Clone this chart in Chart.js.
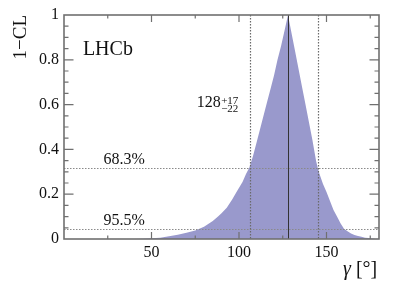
<!DOCTYPE html>
<html>
<head>
<meta charset="utf-8">
<script src="https://cdn.jsdelivr.net/npm/chart.js@4"></script>
<style>
  html, body { margin: 0; padding: 0; background: #fff; }
  #wrap { width: 399px; height: 288px; }
</style>
</head>
<body>
<div id="wrap"><canvas id="chart" width="399" height="288"></canvas></div>
<script>
// gamma scan, 1-CL vs gamma [deg]
const gammaVals = [40, 45, 50, 55, 60, 65, 70, 75, 80, 85, 88, 90, 93, 96, 99, 102, 104, 106, 108, 110,
  112, 114, 116, 118, 120, 122, 124, 126, 128, 130, 132, 134, 136, 138, 140, 142, 144, 145, 146,
  148, 150, 152, 154, 156, 158, 160, 162, 164, 166, 168, 170, 172, 174, 176, 178];
const clVals = [0, 0.001, 0.003, 0.006, 0.012, 0.019, 0.028, 0.038, 0.055, 0.08, 0.1, 0.115, 0.14, 0.175, 0.215, 0.255, 0.29, 0.32, 0.37, 0.43,
  0.49, 0.55, 0.61, 0.67, 0.73, 0.8, 0.86, 0.93, 1.0, 0.92, 0.84, 0.76, 0.68, 0.6, 0.52, 0.44, 0.35, 0.317, 0.29,
  0.245, 0.21, 0.17, 0.13, 0.1, 0.07, 0.046, 0.035, 0.025, 0.018, 0.013, 0.01, 0.006, 0.004, 0.002, 0];

const xTickLabels = [50, 100, 150];
const yTickLabels = [0, 0.2, 0.4, 0.6, 0.8, 1];

const bestFit = 128;
const interval = [106, 145];
const clLevels = [0.317, 0.045];
const clNames = ['68.3%', '95.5%'];

const SERIF = '"Liberation Serif", "DejaVu Serif", serif';
const frameColor = '#707070';

const overlay = {
  id: 'overlay',
  afterDatasetsDraw(chart) {
    const ctx = chart.ctx;
    const xs = chart.scales.x, ys = chart.scales.y;
    const a = chart.chartArea;
    ctx.save();

    // CL levels (horizontal dotted)
    ctx.setLineDash([1.5, 1.5]);
    ctx.strokeStyle = '#8a8a8a';
    ctx.lineWidth = 1.2;
    clLevels.forEach(v => {
      const y = Math.round(ys.getPixelForValue(v)) + 0.5;
      ctx.beginPath(); ctx.moveTo(a.left, y); ctx.lineTo(a.right, y); ctx.stroke();
    });
    // interval bounds (vertical dotted)
    ctx.strokeStyle = '#6a6a6a';
    interval.forEach(v => {
      const x = Math.round(xs.getPixelForValue(v)) + 0.5;
      ctx.beginPath(); ctx.moveTo(x, a.top); ctx.lineTo(x, a.bottom); ctx.stroke();
    });
    // best fit
    ctx.setLineDash([]);
    ctx.strokeStyle = '#333';
    ctx.lineWidth = 1;
    const xb = Math.round(xs.getPixelForValue(bestFit)) + 0.5;
    ctx.beginPath(); ctx.moveTo(xb, a.top); ctx.lineTo(xb, a.bottom); ctx.stroke();

    // frame
    ctx.strokeStyle = frameColor;
    ctx.lineWidth = 1.6;
    ctx.strokeRect(a.left, a.top, a.right - a.left, a.bottom - a.top);

    // ticks (inside, ROOT style)
    ctx.lineWidth = 1.2;
    ctx.beginPath();
    for (let v = 0; v <= 180; v += 25) {
      const x = xs.getPixelForValue(v);
      if (x <= a.left + 1 || x >= a.right - 1) continue;
      const len = (v % 50 === 0) ? 7 : 3.5;
      ctx.moveTo(x, a.bottom); ctx.lineTo(x, a.bottom - len);
      ctx.moveTo(x, a.top); ctx.lineTo(x, a.top + len);
    }
    for (let i = 1; i < 20; i++) {
      const v = i * 0.05;
      const y = ys.getPixelForValue(v);
      const len = (i % 4 === 0) ? 9.5 : 4.5;
      ctx.moveTo(a.left, y); ctx.lineTo(a.left + len, y);
      ctx.moveTo(a.right, y); ctx.lineTo(a.right - len, y);
    }
    ctx.stroke();

    // texts
    ctx.fillStyle = '#111';
    ctx.textBaseline = 'alphabetic';
    ctx.textAlign = 'left';
    ctx.font = '20px ' + SERIF;
    ctx.fillText('LHCb', xs.getPixelForValue(10.8), ys.getPixelForValue(0.82));

    ctx.font = '16px ' + SERIF;
    clLevels.forEach((v, i) => {
      ctx.fillText(clNames[i], xs.getPixelForValue(22.6), ys.getPixelForValue(v) - 4);
    });

    // result label 128 +17 -22
    const lx = xs.getPixelForValue(75.8), ly = ys.getPixelForValue(0.59);
    ctx.font = '16px ' + SERIF;
    ctx.fillText(String(bestFit), lx, ly);
    const w = ctx.measureText(String(bestFit)).width;
    ctx.font = '11px ' + SERIF;
    ctx.fillText('+' + (interval[1] - bestFit), lx + w + 0.5, ly - 2.5);
    ctx.fillText('\u2212' + (bestFit - interval[0]), lx + w + 0.5, ly + 5.5);

    // x-axis title: gamma [deg]
    ctx.font = 'italic 20px ' + SERIF;
    const gx = 343, gy = 275;
    ctx.fillText('\u03b3', gx, gy);
    const gw = ctx.measureText('\u03b3').width;
    ctx.font = '20px ' + SERIF;
    ctx.fillText(' [\u00b0]', gx + gw, gy);

    ctx.restore();
  }
};

new Chart(document.getElementById('chart'), {
  type: 'line',
  data: {
    datasets: [{
      data: gammaVals.map((g, i) => ({ x: g, y: clVals[i] })),
      backgroundColor: '#9999cc',
      borderWidth: 0,
      pointRadius: 0,
      tension: 0,
      fill: 'origin'
    }]
  },
  options: {
    responsive: false,
    animation: false,
    layout: { padding: { top: 15, right: 20, left: 0, bottom: 0 } },
    plugins: { legend: { display: false }, tooltip: { enabled: false } },
    scales: {
      x: {
        type: 'linear', min: 0, max: 180,
        afterFit(s) { s.height = 49; },
        afterBuildTicks(s) { s.ticks = xTickLabels.map(v => ({ value: v })); },
        grid: { display: false, drawTicks: false },
        border: { display: false },
        ticks: { color: '#111', font: { family: SERIF, size: 16 }, padding: 4, maxRotation: 0 }
      },
      y: {
        min: 0, max: 1,
        afterFit(s) { s.width = 64; },
        afterBuildTicks(s) { s.ticks = yTickLabels.map(v => ({ value: v })); },
        grid: { display: false, drawTicks: false },
        border: { display: false },
        ticks: {
          color: '#111', font: { family: SERIF, size: 16 }, padding: 5,
          callback: v => (v === 0 || v === 1) ? String(v) : v.toFixed(1)
        },
        title: {
          display: true, text: '1\u2212CL', align: 'end', color: '#111',
          font: { family: SERIF, size: 19 }, padding: { top: 10, bottom: 0 }
        }
      }
    }
  },
  plugins: [overlay]
});
</script>
</body>
</html>
